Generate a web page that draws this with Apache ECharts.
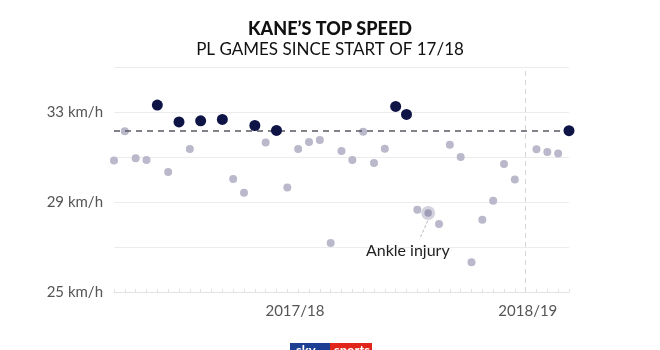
<!DOCTYPE html>
<html>
<head>
<meta charset="utf-8">
<script src="https://cdn.jsdelivr.net/npm/echarts@6/dist/echarts.min.js"></script>
<style>html,body{margin:0;padding:0;background:#fff}#c{width:660px;height:350px}</style>
</head>
<body>
<div id="c"></div>
<script>
// Game slot index (0..42, slot 9 and 38 empty) and top speed in km/h
const games  = [0,1,2,3,4,5,6,7,8,10,11,12,13,14,15,16,17,18,19,20,21,22,23,24,25,26,27,28,29,30,31,32,33,34,35,36,37,39,40,41,42];
const speeds = [30.85,32.14,30.94,30.87,33.31,30.33,32.56,31.36,32.61,32.67,30.02,29.41,32.40,31.65,32.18,29.65,31.36,31.67,31.76,27.18,31.27,30.87,32.12,30.73,31.37,33.25,32.89,28.66,28.51,28.02,31.54,31.00,26.32,28.21,29.06,30.69,30.00,31.34,31.22,31.16,32.17];
const aboveAverageGames = [4,6,8,10,13,15,26,27,42];
const injuryGame = 29;
const averageSpeed = 32.17;
const seasonBreak = 38;
const seasonLabels = ['2017/18','2018/19'];
const seasonLabelPos = [16.7, 38.2];
const yLabelValues = [25,29,33];

const greyData = [], navyData = [];
let injuryPoint = null;
games.forEach((g, k) => {
  const p = [g, speeds[k]];
  if (aboveAverageGames.includes(g)) navyData.push(p); else greyData.push(p);
  if (g === injuryGame) injuryPoint = p;
});

const chart = echarts.init(document.getElementById('c'), null, {renderer:'canvas'});
const FONT = 'Lato, "Open Sans", sans-serif';
chart.setOption({
  animation:false,
  title:[
    {text:"KANE’S TOP SPEED", left:'center', top:15, textStyle:{fontFamily:FONT, fontWeight:900, fontSize:18, color:'#111'}},
    {text:'PL GAMES SINCE START OF 17/18', left:'center', top:36, textStyle:{fontFamily:FONT, fontWeight:400, fontSize:17, color:'#111'}}
  ],
  grid:{left:114, right:91, top:67, bottom:58},
  xAxis:{
    type:'value', min:0, max:42, interval:1,
    splitLine:{show:false},
    axisLine:{lineStyle:{color:'#e2e2e2'}},
    axisTick:{show:true, length:3, inside:true, lineStyle:{color:'#e2e2e2'}},
    axisLabel:{
      customValues: seasonLabelPos,
      formatter:(v)=>{const i = seasonLabelPos.findIndex(x=>Math.abs(x-v)<0.01); return i>=0?seasonLabels[i]:'';},
      color:'#555', fontFamily:FONT, fontSize:15, margin:12
    }
  },
  yAxis:{
    type:'value', min:25, max:35, interval:2,
    axisLine:{show:false}, axisTick:{show:false},
    splitLine:{lineStyle:{color:'#ececec'}},
    axisLabel:{formatter:(v)=> yLabelValues.includes(v) ? v+' km/h' : '', color:'#555', fontFamily:FONT, fontSize:15, margin:11}
  },
  series:[
    {type:'scatter', data:greyData, symbolSize:8, itemStyle:{color:'#bab8cb', opacity:1}, z:3,
     markLine:{silent:true, symbol:'none', label:{show:false},
       data:[
         {xAxis:seasonBreak, lineStyle:{color:'#d6d6d6', type:[5,4], width:1}},
         {yAxis:averageSpeed, lineStyle:{color:'#5a5a66', type:[6,5], width:1.5}}
       ]}
    },
    {type:'scatter', data:[injuryPoint], symbolSize:14, itemStyle:{color:'rgba(175,173,196,0.55)', opacity:1}, z:2,
     markLine:{silent:true, symbol:'none', label:{show:false},
       lineStyle:{color:'#b8b8c0', type:[3,2], width:1},
       data:[[{coord:[28.97,28.17]},{coord:[28.2,27.35]}]]},
     markPoint:{symbol:'circle', symbolSize:0.1,
       label:{show:true, formatter:'Ankle injury', color:'#222', fontFamily:FONT, fontSize:16, position:'inside'},
       data:[{coord:[27.12,26.84]}]}
    },
    {type:'scatter', data:[injuryPoint], symbolSize:7, itemStyle:{color:'#9f9db6', opacity:1}, z:4},
    {type:'scatter', data:navyData, symbolSize:11, itemStyle:{color:'#0f1446', opacity:1}, z:5}
  ],
  graphic:[
    {type:'group', left:290, top:343, children:[
      {type:'rect', shape:{x:0,y:0,width:40,height:18}, style:{fill:'#1c3f94'}},
      {type:'rect', shape:{x:40,y:0,width:42,height:18}, style:{fill:'#e1251b'}},
      {type:'text', style:{x:6,y:1,text:'sky', fill:'#fff', font:'bold 13px '+FONT}},
      {type:'text', style:{x:44,y:1,text:'sports', fill:'#fff', font:'bold 13px '+FONT}}
    ]}
  ]
});
</script>
</body>
</html>
